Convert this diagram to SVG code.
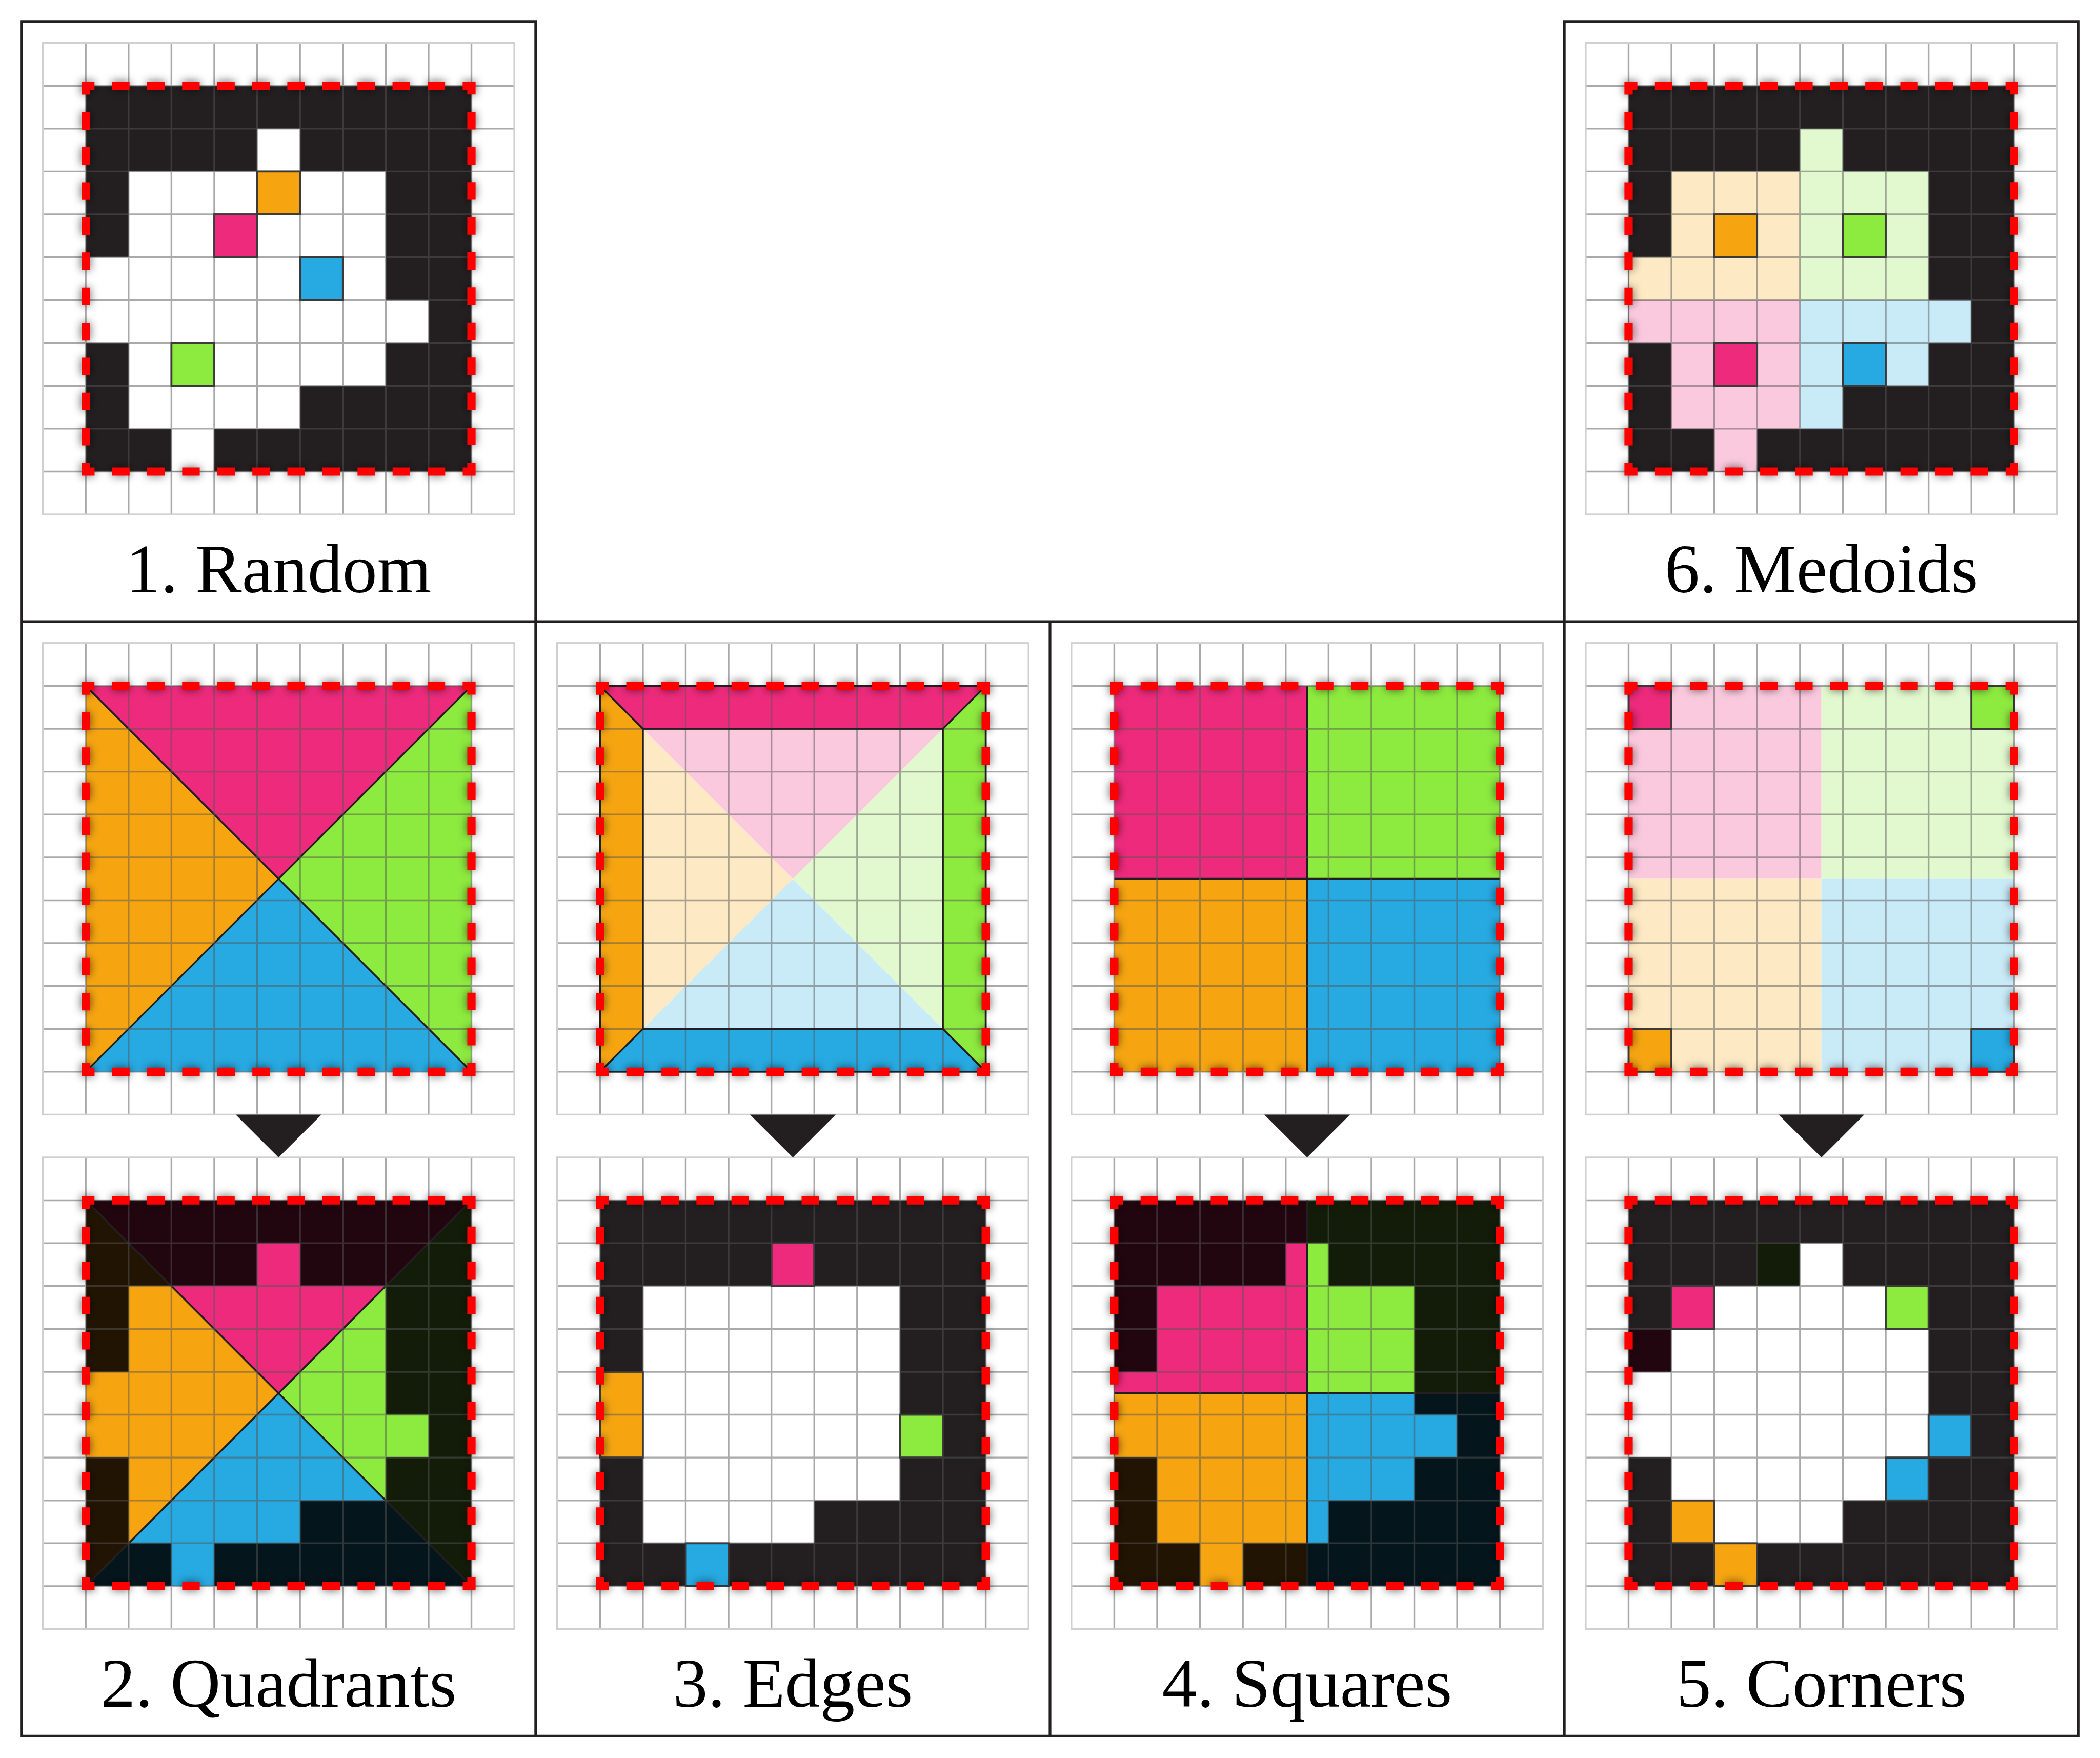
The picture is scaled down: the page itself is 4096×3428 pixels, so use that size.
<svg xmlns="http://www.w3.org/2000/svg" width="4096" height="3428" viewBox="0 0 4096 3428">
<defs>
<style>
.dk{fill:#231f20}
.wh{fill:#ffffff}
.pk{fill:#ED2A7B}.or{fill:#F6A511}.gr{fill:#8DEA3E}.bl{fill:#27A9E1}
.lpk{fill:#FBC9DE}.lor{fill:#FDE9C4}.lgr{fill:#E2F9CF}.lbl{fill:#C9EAF7}
.dpk{fill:#21050F}.dor{fill:#221402}.dgr{fill:#131C08}.dbl{fill:#05151C}
.cell{stroke:#231f20;stroke-width:1.4}
.ln{fill:none;stroke:#231f20;stroke-width:1.4}
.gl{fill:none;stroke:#555555;stroke-opacity:0.5;stroke-width:1.3}
.gf{fill:none;stroke:#d0d0d0;stroke-width:1.3}
.rd{fill:none;stroke:#ff0000;stroke-width:6.2;stroke-dasharray:13.09 13.09;stroke-dashoffset:6.545}
.sh{fill:none;stroke:#000000;stroke-opacity:0.6;stroke-width:6.5;stroke-dasharray:13.09 13.09;stroke-dashoffset:6.545;filter:url(#blur)}
.frame{fill:none;stroke:#231f20;stroke-width:2}
.lab{font-family:"Liberation Serif","Times New Roman",serif;font-size:52px;fill:#000000;text-anchor:middle}
.arrow{fill:#231f20}
</style>
<filter id="blur" x="-20%" y="-20%" width="140%" height="140%">
<feGaussianBlur stdDeviation="3.2"/>
</filter>
<path id="wmap" d="M128,32H160V64H224V160H256V192H224V224H160V256H96V288H64V256H32V192H0V128H32V64H128Z"/>
<clipPath id="wclip"><path d="M128,32H160V64H224V160H256V192H224V224H160V256H96V288H64V256H32V192H0V128H32V64H128Z"/></clipPath>
<path id="sq" d="M0,0H288V288H0Z"/>
<g id="grid">
<path class="gl" d="M0,-32V320M32,-32V320M64,-32V320M96,-32V320M128,-32V320M160,-32V320M192,-32V320M224,-32V320M256,-32V320M288,-32V320M-32,0H320M-32,32H320M-32,64H320M-32,96H320M-32,128H320M-32,160H320M-32,192H320M-32,224H320M-32,256H320M-32,288H320"/>
<rect class="gf" x="-32" y="-32" width="352" height="352"/>
</g>
<g id="border">
<use href="#sq" class="sh"/>
<use href="#sq" class="rd"/>
</g>
</defs>
<rect width="4096" height="3428" fill="#ffffff"/>
<g transform="scale(2.612245)">

<g id="frames">
<path class="frame" d="M16,16H400V464H16Z M1168,16H1552V464H1168Z M16,464H1552V1296H16Z M400,464V1296 M784,464V1296 M1168,464V1296"/>
</g>

<g id="panel-1-random">
<g transform="translate(64,64)">
<rect class="dk" width="288" height="288"/>
<use href="#wmap" class="wh"/>
<rect class="or cell" x="128" y="64" width="32" height="32"/>
<rect class="pk cell" x="96" y="96" width="32" height="32"/>
<rect class="bl cell" x="160" y="128" width="32" height="32"/>
<rect class="gr cell" x="64" y="192" width="32" height="32"/>
<use href="#grid"/>
<use href="#border"/>
</g>
<text class="lab" x="208" y="442">1. Random</text>
</g>

<g id="panel-6-medoids">
<g transform="translate(1216,64)">
<rect class="dk" width="288" height="288"/>
<g clip-path="url(#wclip)">
<rect class="lor" x="0" y="0" width="128" height="160"/>
<rect class="lgr" x="128" y="0" width="160" height="160"/>
<rect class="lpk" x="0" y="160" width="128" height="128"/>
<rect class="lbl" x="128" y="160" width="160" height="128"/>
</g>
<rect class="or cell" x="64" y="96" width="32" height="32"/>
<rect class="gr cell" x="160" y="96" width="32" height="32"/>
<rect class="pk cell" x="64" y="192" width="32" height="32"/>
<rect class="bl cell" x="160" y="192" width="32" height="32"/>
<use href="#grid"/>
<use href="#border"/>
</g>
<text class="lab" x="1360" y="442">6. Medoids</text>
</g>

<g id="panel-2-quadrants">
<g transform="translate(64,512)">
<polygon class="pk" points="0,0 288,0 144,144"/>
<polygon class="gr" points="288,0 288,288 144,144"/>
<polygon class="bl" points="0,288 288,288 144,144"/>
<polygon class="or" points="0,0 0,288 144,144"/>
<path class="ln" d="M0,0L288,288M288,0L0,288"/>
<use href="#grid"/>
<use href="#border"/>
</g>
<g transform="translate(64,896)">
<polygon class="dpk" points="0,0 288,0 144,144"/>
<polygon class="dgr" points="288,0 288,288 144,144"/>
<polygon class="dbl" points="0,288 288,288 144,144"/>
<polygon class="dor" points="0,0 0,288 144,144"/>
<g clip-path="url(#wclip)">
<polygon class="pk" points="0,0 288,0 144,144"/>
<polygon class="gr" points="288,0 288,288 144,144"/>
<polygon class="bl" points="0,288 288,288 144,144"/>
<polygon class="or" points="0,0 0,288 144,144"/>
</g>
<path class="ln" d="M0,0L288,288M288,0L0,288"/>
<use href="#grid"/>
<use href="#border"/>
</g>
<text class="lab" x="208" y="1274">2. Quadrants</text>
</g>

<g id="panel-3-edges">
<g transform="translate(448,512)">
<polygon class="pk" points="0,0 288,0 256,32 32,32"/>
<polygon class="gr" points="288,0 288,288 256,256 256,32"/>
<polygon class="bl" points="0,288 288,288 256,256 32,256"/>
<polygon class="or" points="0,0 32,32 32,256 0,288"/>
<polygon class="lpk" points="32,32 256,32 144,144"/>
<polygon class="lgr" points="256,32 256,256 144,144"/>
<polygon class="lbl" points="32,256 256,256 144,144"/>
<polygon class="lor" points="32,32 32,256 144,144"/>
<use href="#grid"/>
<rect class="ln" x="32" y="32" width="224" height="224"/>
<rect class="ln" x="0" y="0" width="288" height="288"/>
<path class="ln" d="M0,0L32,32M288,0L256,32M0,288L32,256M288,288L256,256"/>
<use href="#border"/>
</g>
<g transform="translate(448,896)">
<rect class="dk" width="288" height="288"/>
<use href="#wmap" class="wh"/>
<rect class="pk cell" x="128" y="32" width="32" height="32"/>
<rect class="or cell" x="0" y="128" width="32" height="64"/>
<rect class="gr cell" x="224" y="160" width="32" height="32"/>
<rect class="bl cell" x="64" y="256" width="32" height="32"/>
<use href="#grid"/>
<use href="#border"/>
</g>
<text class="lab" x="592" y="1274">3. Edges</text>
</g>

<g id="panel-4-squares">
<g transform="translate(832,512)">
<rect class="pk" x="0" y="0" width="144" height="144"/>
<rect class="gr" x="144" y="0" width="144" height="144"/>
<rect class="or" x="0" y="144" width="144" height="144"/>
<rect class="bl" x="144" y="144" width="144" height="144"/>
<path class="ln" d="M144,0V288M0,144H288"/>
<use href="#grid"/>
<use href="#border"/>
</g>
<g transform="translate(832,896)">
<rect class="dpk" x="0" y="0" width="144" height="144"/>
<rect class="dgr" x="144" y="0" width="144" height="144"/>
<rect class="dor" x="0" y="144" width="144" height="144"/>
<rect class="dbl" x="144" y="144" width="144" height="144"/>
<g clip-path="url(#wclip)">
<rect class="pk" x="0" y="0" width="144" height="144"/>
<rect class="gr" x="144" y="0" width="144" height="144"/>
<rect class="or" x="0" y="144" width="144" height="144"/>
<rect class="bl" x="144" y="144" width="144" height="144"/>
</g>
<path class="ln" d="M144,0V288M0,144H288"/>
<use href="#grid"/>
<use href="#border"/>
</g>
<text class="lab" x="976" y="1274">4. Squares</text>
</g>

<g id="panel-5-corners">
<g transform="translate(1216,512)">
<rect class="lpk" x="0" y="0" width="144" height="144"/>
<rect class="lgr" x="144" y="0" width="144" height="144"/>
<rect class="lor" x="0" y="144" width="144" height="144"/>
<rect class="lbl" x="144" y="144" width="144" height="144"/>
<rect class="pk cell" x="0" y="0" width="32" height="32"/>
<rect class="gr cell" x="256" y="0" width="32" height="32"/>
<rect class="or cell" x="0" y="256" width="32" height="32"/>
<rect class="bl cell" x="256" y="256" width="32" height="32"/>
<use href="#grid"/>
<use href="#border"/>
</g>
<g transform="translate(1216,896)">
<rect class="dk" width="288" height="288"/>
<use href="#wmap" class="wh"/>
<rect class="dgr" x="96" y="32" width="32" height="32"/>
<rect class="dpk" x="0" y="96" width="32" height="32"/>
<rect class="pk cell" x="32" y="64" width="32" height="32"/>
<rect class="gr cell" x="192" y="64" width="32" height="32"/>
<rect class="bl cell" x="224" y="160" width="32" height="32"/>
<rect class="bl cell" x="192" y="192" width="32" height="32"/>
<rect class="or cell" x="32" y="224" width="32" height="32"/>
<rect class="or cell" x="64" y="256" width="32" height="32"/>
<use href="#grid"/>
<use href="#border"/>
</g>
<text class="lab" x="1360" y="1274">5. Corners</text>
</g>

<g id="connectors">
<polygon class="arrow" points="176,832 240,832 208,864"/>
<polygon class="arrow" points="560,832 624,832 592,864"/>
<polygon class="arrow" points="944,832 1008,832 976,864"/>
<polygon class="arrow" points="1328,832 1392,832 1360,864"/>
</g>

</g>
</svg>
